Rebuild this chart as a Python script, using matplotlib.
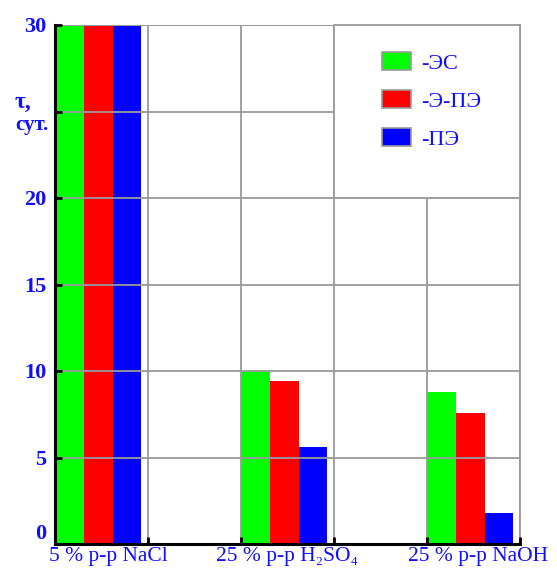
import matplotlib
matplotlib.use('Agg')
import numpy as np
from matplotlib import pyplot as plt
from matplotlib.patches import Rectangle, Patch

plt.rcParams['font.family'] = ['Liberation Serif', 'DejaVu Serif']

# data
categories = ['5 % р-р NaCl', '25 % р-р H₂SO₄', '25 % р-р NaOH']
series_names = ['-ЭС', '-Э-ПЭ', '-ПЭ']
es = [30, 10.0, 8.8]
e_pe = [30, 9.4, 7.6]
pe = [30, 5.6, 1.8]
y_ticks = [0, 5, 10, 15, 20, 25, 30]
y_labels = ['0', '5', '10', '15', '20', '', '30']

colors = ['#00ff00', '#ff0000', '#0000ff']
txt_color = '#1010ff'
grid_color = '#9a9a9a'

fig = plt.figure(figsize=(5.57, 5.68), dpi=100)
ax = fig.add_axes([55 / 557, 1 - 544 / 568, 465 / 557, 519 / 568])

pos = np.arange(len(categories)) * 2
w = 0.31
for k, vals in enumerate([es, e_pe, pe]):
    ax.bar(pos + k * w, vals, width=w, align='edge', color=colors[k], zorder=1)

ax.set_xlim(0, 5)
ax.set_ylim(0, 30)
ax.set_xticks(np.arange(0, 6))
ax.set_xticklabels([])
ax.set_yticks(y_ticks)
ax.set_yticklabels(y_labels, color=txt_color, fontsize=16, fontweight='bold')
ax.get_yticklabels()[0].set_va('bottom')
ax.tick_params(axis='both', direction='in', length=5, width=2, color='black')
ax.tick_params(axis='y', pad=6)

ax.grid(True, color=grid_color, linewidth=1.3)
ax.set_axisbelow(False)
for s in ['top', 'right']:
    ax.spines[s].set_visible(False)
for s in ['left', 'bottom']:
    ax.spines[s].set_linewidth(2.2)
    ax.spines[s].set_zorder(4)

# top and right border lines
ax.axhline(30, color=grid_color, linewidth=1.3, zorder=2.5)
ax.axvline(5, color=grid_color, linewidth=1.3, zorder=2.5, clip_on=False)

# legend box
ax.add_patch(Rectangle((3, 20), 2, 10, facecolor='white', edgecolor=grid_color,
                       linewidth=1.3, zorder=3, clip_on=False))
handles = [Patch(facecolor=c, edgecolor=grid_color, linewidth=1.2) for c in colors]
leg = ax.legend(handles, series_names, loc='upper left', bbox_to_anchor=(0.703, 0.948),
                frameon=False, fontsize=16, handlelength=1.3, handleheight=0.85,
                labelspacing=0.75, handletextpad=0.45, borderpad=0, borderaxespad=0,
                labelcolor=txt_color)
leg.set_zorder(5)

# category labels
label_x = [0.57, 2.5, 4.55]
for x, c in zip(label_x, categories):
    ax.text(x, -0.006, c, transform=ax.get_xaxis_transform(), ha='center', va='top',
            color=txt_color, fontsize=15.5)

# y axis label
ax.text(-0.05, 25.5, 'τ,', transform=ax.get_yaxis_transform(), ha='right', va='center',
        color=txt_color, fontsize=17, fontweight='bold')
ax.text(-0.015, 24.2, 'сут.', transform=ax.get_yaxis_transform(), ha='right', va='center',
        color=txt_color, fontsize=15, fontweight='bold')

fig.savefig('out.png', dpi=100)
